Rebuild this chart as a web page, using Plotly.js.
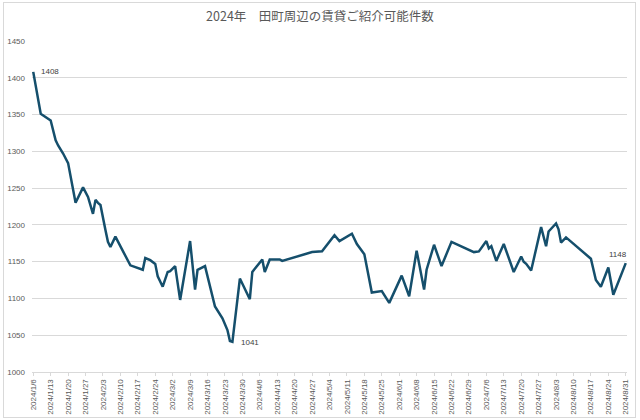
<!DOCTYPE html>
<html>
<head>
<meta charset="utf-8">
<script src="https://cdn.plot.ly/plotly-3.0.1.min.js"></script>
<style>
html,body{margin:0;padding:0;background:#fff;}
#wrap{position:relative;width:640px;height:420px;}
#chart{width:640px;height:420px;}
#frame{position:absolute;left:3px;top:2px;width:631px;height:414px;border:1px solid #d9d9d9;pointer-events:none;}
</style>
</head>
<body>
<div id="wrap"><div id="chart"></div><div id="frame"></div></div>
<script>
const chartTitle = "2024年　田町周辺の賃貸ご紹介可能件数";
const dates = [
 "2024-01-06","2024-01-09","2024-01-13","2024-01-15","2024-01-16","2024-01-18","2024-01-20","2024-01-23",
 "2024-01-26","2024-01-28","2024-01-30","2024-01-31","2024-02-01","2024-02-02","2024-02-04","2024-02-05",
 "2024-02-06","2024-02-08","2024-02-14","2024-02-19","2024-02-20","2024-02-22","2024-02-24","2024-02-25",
 "2024-02-27","2024-02-29","2024-03-01","2024-03-03","2024-03-05","2024-03-09","2024-03-11","2024-03-12",
 "2024-03-15","2024-03-19","2024-03-22","2024-03-24","2024-03-25","2024-03-26","2024-03-29","2024-04-02",
 "2024-04-03","2024-04-07","2024-04-08","2024-04-10","2024-04-14","2024-04-15","2024-04-27","2024-04-30",
 "2024-05-01","2024-05-06","2024-05-08","2024-05-13","2024-05-15","2024-05-18","2024-05-21","2024-05-25",
 "2024-05-28","2024-06-02","2024-06-05","2024-06-08","2024-06-11","2024-06-12","2024-06-15","2024-06-18",
 "2024-06-22","2024-07-01","2024-07-03","2024-07-06","2024-07-07","2024-07-08","2024-07-10","2024-07-13",
 "2024-07-17","2024-07-20","2024-07-21","2024-07-22","2024-07-24","2024-07-28","2024-07-30","2024-07-31",
 "2024-08-03","2024-08-04","2024-08-05","2024-08-07","2024-08-17","2024-08-19","2024-08-21","2024-08-24",
 "2024-08-26","2024-08-31"
];
const counts = [
 1408,1351,1342,1315,1308,1297,1284,1230,
 1251,1238,1215,1234,1230,1227,1193,1177,
 1170,1184,1145,1139,1155,1152,1147,1130,
 1116,1136,1137,1144,1098,1178,1112,1139,
 1144,1089,1073,1057,1042,1041,1127,1099,
 1136,1153,1136,1153,1153,1151,1163,1164,
 1164,1186,1178,1188,1174,1160,1108,1110,
 1094,1131,1103,1165,1112,1139,1173,1144,
 1177,1163,1164,1178,1168,1171,1151,1174,
 1136,1157,1150,1147,1138,1197,1171,1191,
 1202,1194,1176,1183,1154,1125,1116,1142,
 1105,1148
];
const yTicks = [1000,1050,1100,1150,1200,1250,1300,1350,1400,1450];

// labelled points: first, minimum, last
const iFirst = 0;
const iMin = counts.indexOf(Math.min(...counts));
const iLast = counts.length - 1;

const labelFont = {family:"Liberation Sans, Arial, sans-serif", size:8, color:"#404040"};
const annotations = [
 {x:dates[iFirst], y:counts[iFirst], text:String(counts[iFirst]), showarrow:false, xanchor:"left", yanchor:"middle", xshift:6, font:labelFont},
 {x:dates[iMin], y:counts[iMin], text:String(counts[iMin]), showarrow:false, xanchor:"left", yanchor:"middle", xshift:7, yshift:-1, font:labelFont},
 {x:dates[iLast], y:counts[iLast], text:String(counts[iLast]), showarrow:false, xanchor:"center", yanchor:"bottom", xshift:-8, yshift:2, font:labelFont}
];

const trace = {
 x: dates, y: counts, type:"scatter", mode:"lines",
 line:{color:"#154f6c", width:2.5},
 hoverinfo:"x+y"
};

const layout = {
 width:640, height:420,
 paper_bgcolor:"rgba(0,0,0,0)", plot_bgcolor:"#fff",
 margin:{l:32, r:13, t:41, b:48, pad:0},
 showlegend:false,
 title:{text:chartTitle, x:0.5, xanchor:"center", y:0.96, yanchor:"middle",
   font:{family:"Noto Sans CJK JP, sans-serif", size:12.5, color:"#595959"}},
 xaxis:{
   type:"date",
   range:["2024-01-05 12:00","2024-08-31 12:00"],
   tick0:"2024-01-06", dtick:7*86400000,
   tickformat:"%Y/%-m/%-d", tickangle:-90,
   tickfont:{family:"Liberation Sans, Arial, sans-serif", size:8, color:"#595959"},
   showgrid:false, zeroline:false,
   showline:true, linecolor:"#d9d9d9", linewidth:1,
   ticks:"outside", ticklen:3, tickcolor:"#d9d9d9",
   automargin:false, fixedrange:true
 },
 yaxis:{
   range:[1000,1450], tickvals:yTicks, ticktext:yTicks.map(String),
   tickfont:{family:"Liberation Sans, Arial, sans-serif", size:8, color:"#595959"},
   showgrid:true, gridcolor:"#d9d9d9", gridwidth:1,
   zeroline:false, showline:false, ticks:"", ticklabelstandoff:6,
   automargin:false, fixedrange:true
 },
 annotations: annotations
};

Plotly.newPlot("chart", [trace], layout, {displayModeBar:false, staticPlot:true});
</script>
</body>
</html>
